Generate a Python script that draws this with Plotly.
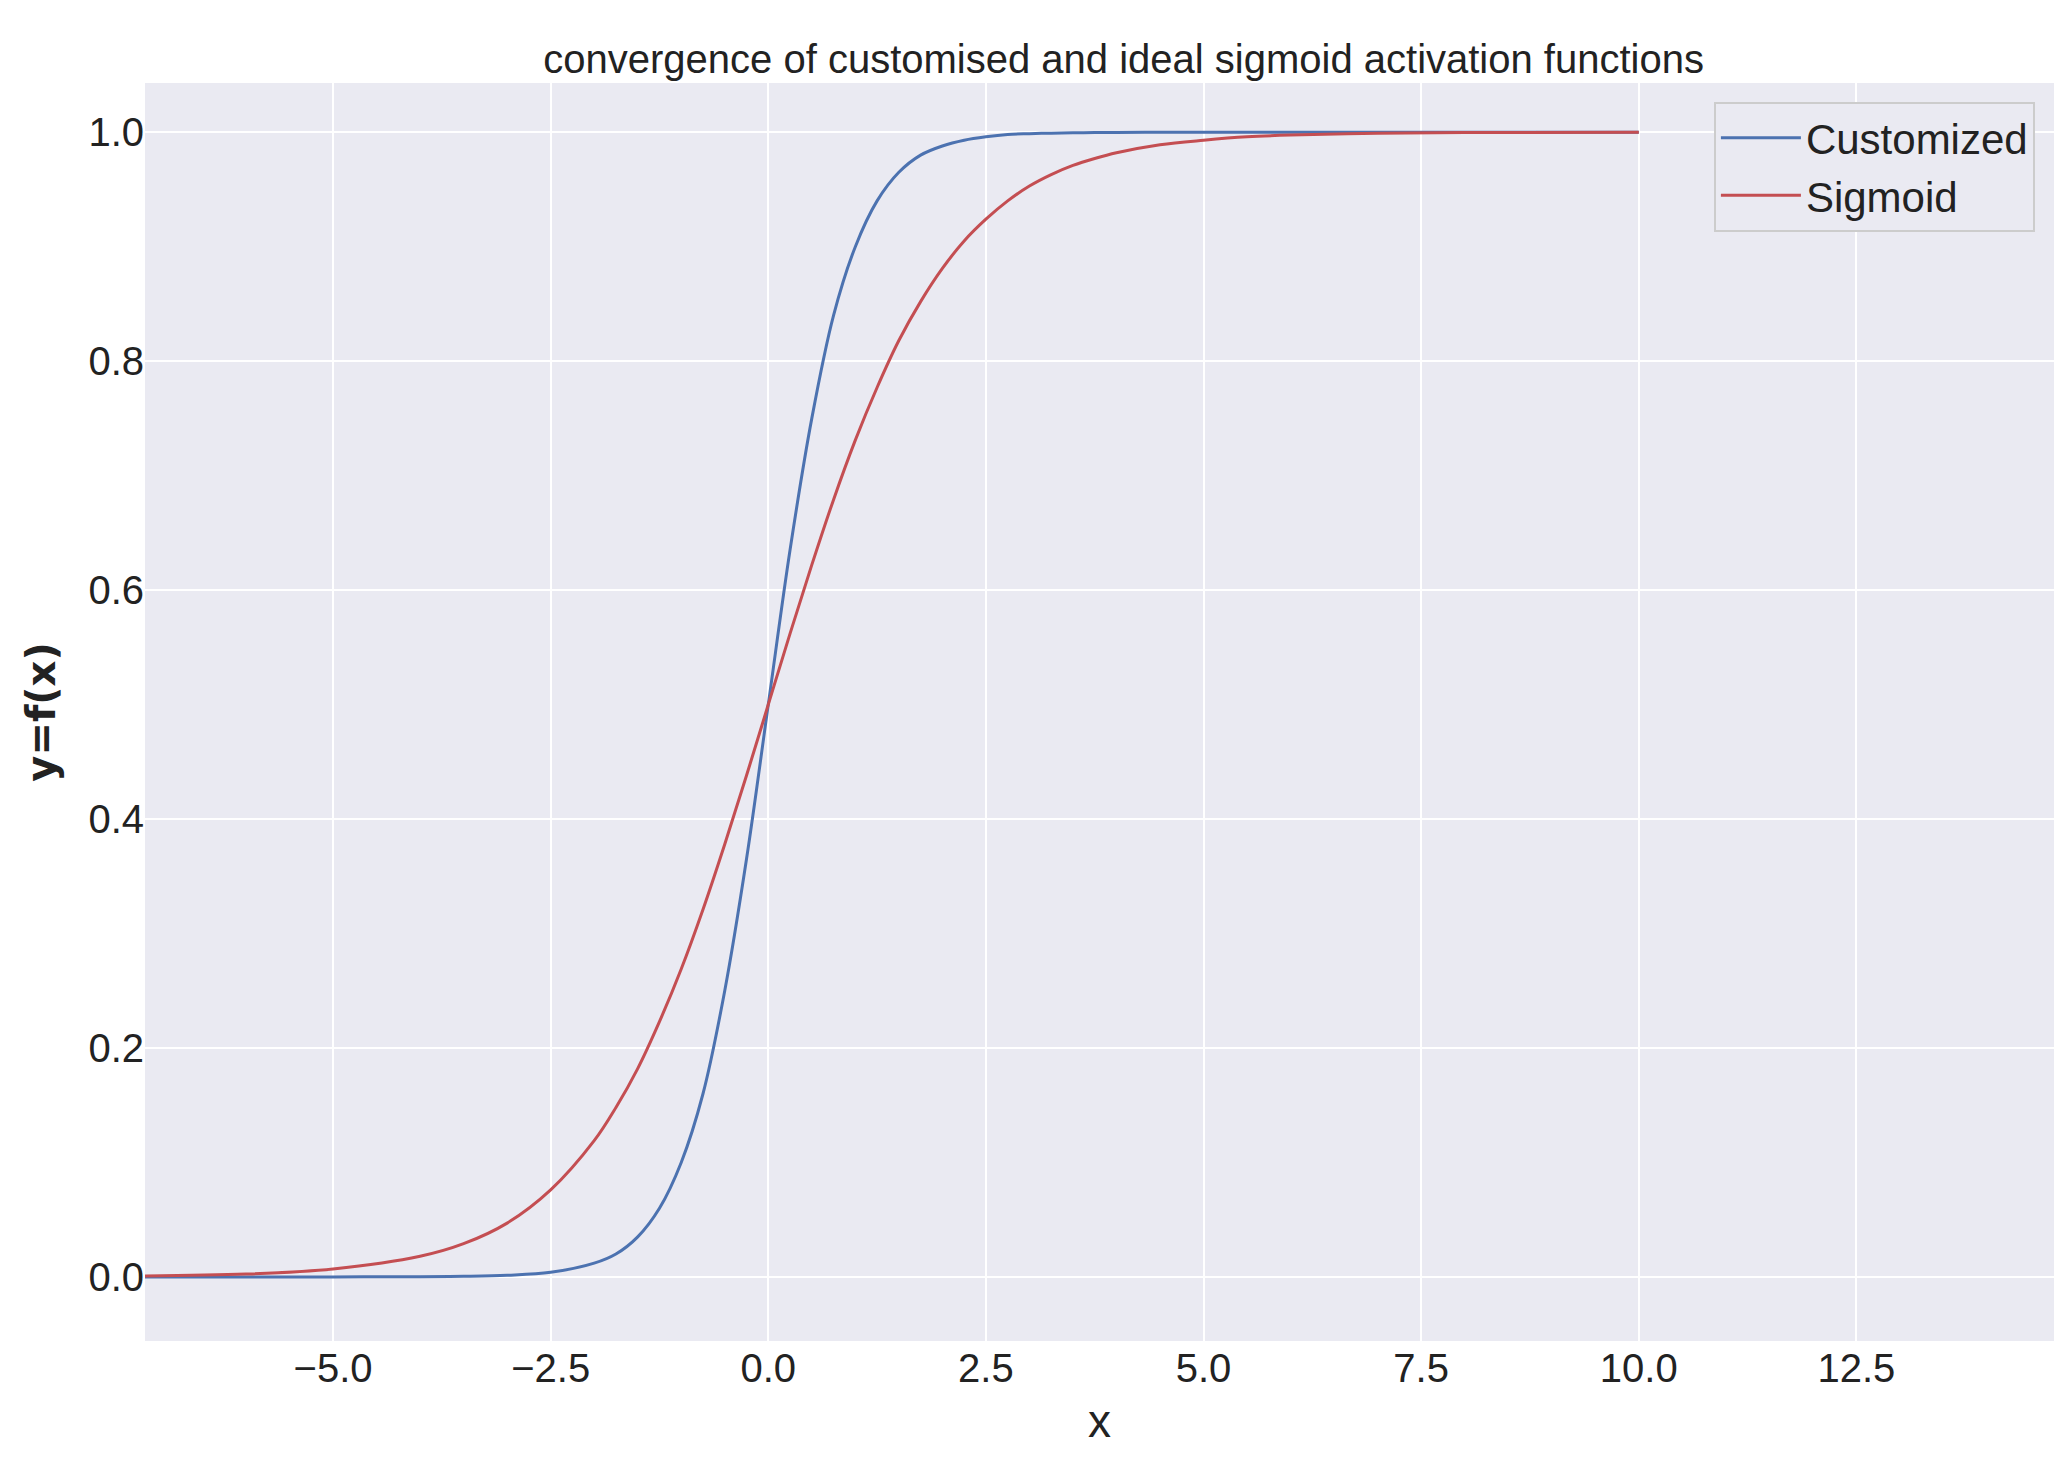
import plotly.graph_objects as go

x = [-7.2,-6,-5,-4,-3.5,-3,-2.5,-2,-1.75,-1.5,-1.25,-1,-0.75,-0.5,-0.25,0,0.25,0.5,0.75,1,1.25,1.5,1.75,2,2.25,2.5,2.75,3,3.25,3.5,3.75,4,4.5,5,5.5,6,7,8,10]
sigmoid = [0.0008,0.0025,0.007,0.018,0.029,0.047,0.076,0.119,0.148,0.182,0.223,0.269,0.321,0.378,0.438,0.5,0.562,0.622,0.679,0.731,0.777,0.818,0.852,0.881,0.905,0.924,0.940,0.953,0.963,0.971,0.977,0.982,0.989,0.993,0.996,0.9975,0.999,0.9997,1.0]
customized = [0,0,0,0.0002,0.0005,0.0014,0.004,0.012,0.02,0.035,0.06,0.1,0.16,0.25,0.365,0.5,0.635,0.75,0.84,0.9,0.94,0.965,0.98,0.988,0.993,0.996,0.998,0.9987,0.9992,0.9995,0.9997,0.9998,1,1,1,1,1,1,1]

F = "Liberation Sans, Arial, sans-serif"
fig = go.Figure()
fig.add_trace(go.Scatter(x=x, y=customized, mode="lines", name="Customized", line=dict(color="#4c72b0", width=3, shape="spline")))
fig.add_trace(go.Scatter(x=x, y=sigmoid, mode="lines", name="Sigmoid", line=dict(color="#c44e52", width=3, shape="spline")))
fig.update_layout(
    width=2066, height=1484, paper_bgcolor="white", plot_bgcolor="#eaeaf2",
    margin=dict(l=137, r=20, t=75, b=151),
    title=dict(text="convergence of customised and ideal sigmoid activation functions", x=0.54, xanchor="center", y=0.975, font=dict(family=F, size=40, color="#222")),
    font=dict(family=F, size=40, color="#222"),
    xaxis=dict(range=[-7.16, 14.77], tickvals=[-5,-2.5,0,2.5,5,7.5,10,12.5], ticktext=["−5.0","−2.5","0.0","2.5","5.0","7.5","10.0","12.5"],
               gridcolor="white", gridwidth=2, zeroline=False, showline=False, ticks="",
               title=dict(text="x", font=dict(family=F, size=46))),
    yaxis=dict(range=[-0.056, 1.043], tickvals=[0,0.2,0.4,0.6,0.8,1.0], tickformat=".1f",
               gridcolor="white", gridwidth=2, zeroline=False, showline=False, ticks="",
               title=dict(text="<b>y=f(x)</b>", font=dict(family="DejaVu Sans", size=40), standoff=20)),
    legend=dict(x=0.99, y=0.985, xanchor="right", yanchor="top", bgcolor="#eaeaf2", bordercolor="#cccccc", borderwidth=2,
                itemwidth=80, font=dict(family=F, size=42), tracegroupgap=10),
)
fig.write_html("out.html")
